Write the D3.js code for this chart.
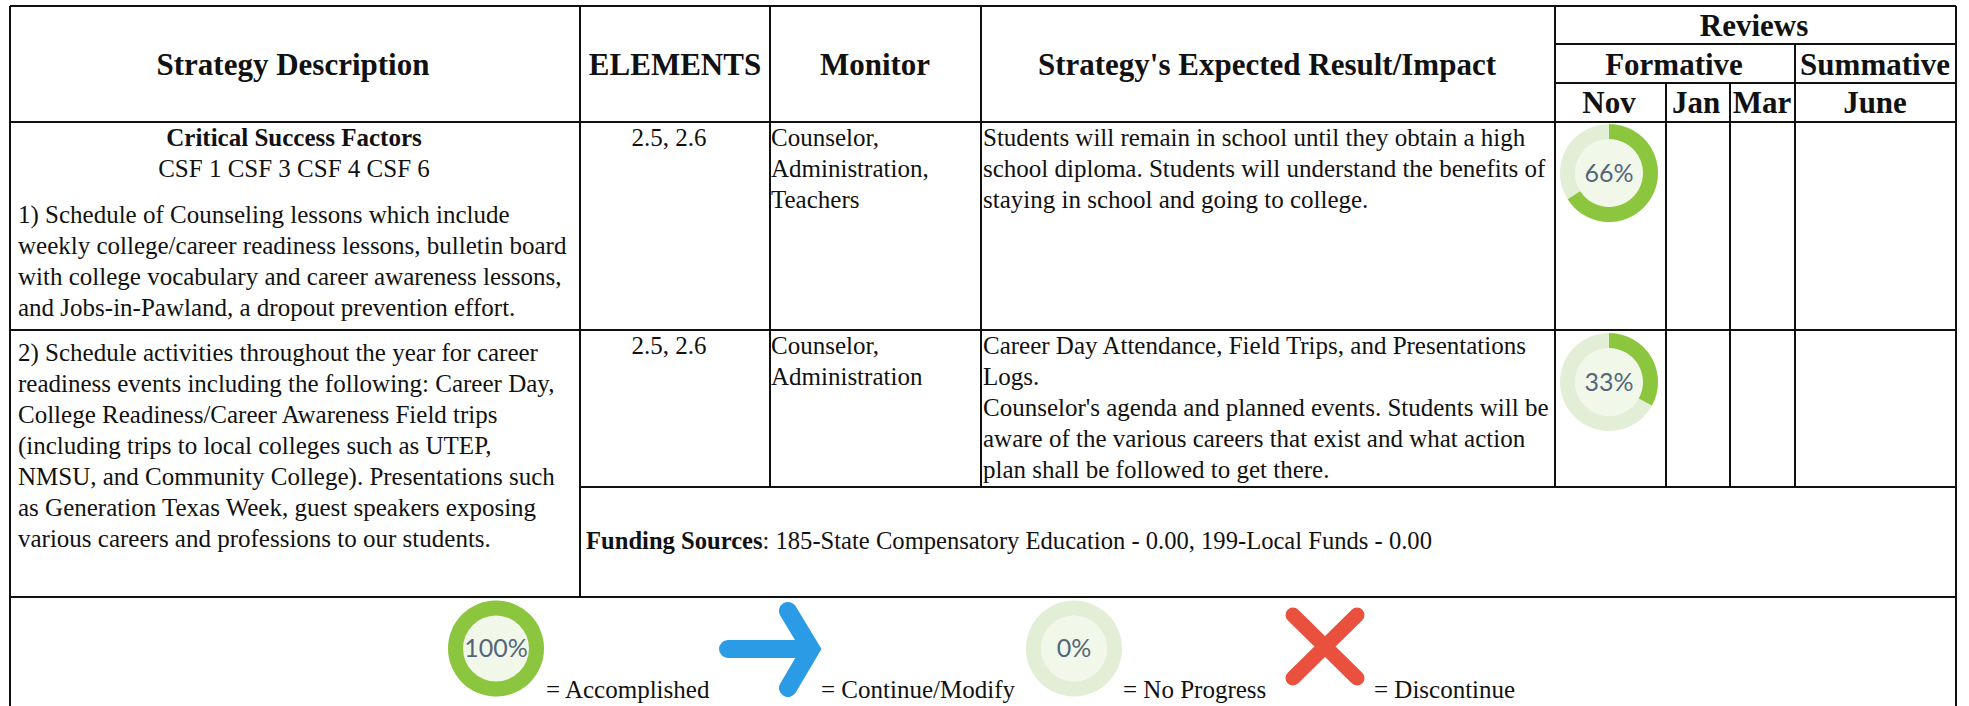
<!DOCTYPE html>
<html>
<head>
<meta charset="utf-8">
<script src="https://cdn.jsdelivr.net/npm/d3@7"></script>
<style>
    html, body { margin: 0; padding: 0; background: #fff; overflow: hidden; }
    text { font-family: "Liberation Serif", serif; fill: #111; }
    .head { font-weight: bold; font-size: 31px; }
    .body { font-size: 25px; }
    .pct { font-family: Lato, sans-serif; fill: #56667a; }
</style>
</head>
<body>
<div id="chart"></div>
<script>
const svgWidth = 1969;
const svgHeight = 706;

// --- data ---
const reviewLevels = ["Reviews", "Formative", "Summative"];
const reviewMonths = ["Nov", "Jan", "Mar", "June"];
const mainHeaders = ["Strategy Description", "ELEMENTS", "Monitor", "Strategy's Expected Result/Impact"];
const strategyPercents = [66, 33];
const elementsText = ["2.5, 2.6", "2.5, 2.6"];
const monitorLines = [
    ["Counselor,", "Administration,", "Teachers"],
    ["Counselor,", "Administration"]
];
const resultLines = [
    ["Students will remain in school until they obtain a high",
     "school diploma. Students will understand the benefits of",
     "staying in school and going to college."],
    ["Career Day Attendance, Field Trips, and Presentations",
     "Logs.",
     "Counselor's agenda and planned events. Students will be",
     "aware of the various careers that exist and what action",
     "plan shall be followed to get there."]
];
const strategyLines = [
    ["1) Schedule of Counseling lessons which include",
     "weekly college/career readiness lessons, bulletin board",
     "with college vocabulary and career awareness lessons,",
     "and Jobs-in-Pawland, a dropout prevention effort."],
    ["2) Schedule activities throughout the year for career",
     "readiness events including the following: Career Day,",
     "College Readiness/Career Awareness Field trips",
     "(including trips to local colleges such as UTEP,",
     "NMSU, and Community College). Presentations such",
     "as Generation Texas Week, guest speakers exposing",
     "various careers and professions to our students."]
];
const csfTitle = "Critical Success Factors";
const csfList = "CSF 1 CSF 3 CSF 4 CSF 6";
const fundingLabel = "Funding Sources";
const fundingText = ": 185-State Compensatory Education - 0.00, 199-Local Funds - 0.00";
const legendPercents = [100, 0];
const legendLabels = ["= Accomplished", "= Continue/Modify", "= No Progress", "= Discontinue"];

// --- layout ---
const colX = { left: 10, elements: 580, monitor: 770, result: 981, nov: 1555, jan: 1666, mar: 1730, june: 1795, right: 1956 };
const rowY = { top: 6, reviews: 44, formative: 83, head: 122, row1: 330, row2: 487, bottom: 597 };
const lineGap = 31;

const svg = d3.select("#chart").append("svg")
    .attr("width", svgWidth)
    .attr("height", svgHeight);

// grid lines: [x1, y1, x2, y2]
const gridLines = [
    [colX.left, rowY.top, colX.right, rowY.top],
    [colX.left, rowY.head, colX.right, rowY.head],
    [colX.left, rowY.row1, colX.right, rowY.row1],
    [colX.elements, rowY.row2, colX.right, rowY.row2],
    [colX.left, rowY.bottom, colX.right, rowY.bottom],
    [colX.nov, rowY.reviews, colX.right, rowY.reviews],
    [colX.nov, rowY.formative, colX.right, rowY.formative],
    [colX.left, rowY.top, colX.left, svgHeight],
    [colX.right, rowY.top, colX.right, svgHeight],
    [colX.elements, rowY.top, colX.elements, rowY.bottom],
    [colX.monitor, rowY.top, colX.monitor, rowY.row2],
    [colX.result, rowY.top, colX.result, rowY.row2],
    [colX.nov, rowY.top, colX.nov, rowY.row2],
    [colX.jan, rowY.formative, colX.jan, rowY.row2],
    [colX.mar, rowY.formative, colX.mar, rowY.row2],
    [colX.june, rowY.reviews, colX.june, rowY.row2]
];

svg.append("g").selectAll("line")
    .data(gridLines)
    .enter()
    .append("line")
    .attr("x1", d => d[0])
    .attr("y1", d => d[1])
    .attr("x2", d => d[2])
    .attr("y2", d => d[3])
    .attr("stroke", "#111")
    .attr("stroke-width", 2);

function addText(cls, x, y, str, anchor) {
    return svg.append("text")
        .attr("class", cls)
        .attr("x", x)
        .attr("y", y)
        .attr("text-anchor", anchor || "start")
        .text(str);
}

function addLines(lines, x, y) {
    lines.forEach((line, i) => addText("body", x, y + i * lineGap, line));
}

// headers
const headCenters = [293, 675, 875, 1267];
mainHeaders.forEach((h, i) => addText("head", headCenters[i], 75, h, "middle"));
addText("head", 1754, 36, reviewLevels[0], "middle");
addText("head", 1674, 75, reviewLevels[1], "middle");
addText("head", 1875, 75, reviewLevels[2], "middle");
const monthCenters = [1609, 1696, 1762, 1875];
reviewMonths.forEach((m, i) => addText("head", monthCenters[i], 113, m, "middle"));

// row text
addText("body", 294, 146, csfTitle, "middle").style("font-weight", "bold");
addText("body", 294, 177, csfList, "middle");
addLines(strategyLines[0], 18, 223);
addLines(strategyLines[1], 18, 361);

const elementBase = [146, 354];
const resultBase = [146, 354];
elementsText.forEach((t, i) => {
    addText("body", 669, elementBase[i], t, "middle");
    addLines(monitorLines[i], 771, resultBase[i]);
    addLines(resultLines[i], 983, resultBase[i]);
});

const funding = addText("body", 586, 549, "").style("font-size", "24.6px");
funding.append("tspan").style("font-weight", "bold").text(fundingLabel);
funding.append("tspan").text(fundingText);

// donuts
const percentScale = d3.scaleLinear().domain([0, 100]).range([0, 2 * Math.PI]);

function drawDonut(cx, cy, value, outer, inner, fontSize) {
    const g = svg.append("g").attr("transform", `translate(${cx},${cy})`);
    const arc = d3.arc().innerRadius(inner).outerRadius(outer);
    g.append("circle").attr("r", inner).attr("fill", "#f1f8ea");
    g.append("path")
        .attr("d", arc({ startAngle: 0, endAngle: 2 * Math.PI }))
        .attr("fill", "#e2efd6");
    if (value > 0) {
        g.append("path")
            .attr("d", arc({ startAngle: 0, endAngle: percentScale(value) }))
            .attr("fill", "#8cc63f");
    }
    g.append("text")
        .attr("class", "pct")
        .attr("text-anchor", "middle")
        .attr("dy", "0.35em")
        .style("font-size", fontSize + "px")
        .text(value + "%");
}

const donutRows = [173, 382];
strategyPercents.forEach((p, i) => drawDonut(1609, donutRows[i], p, 49, 34, 25));

// legend
drawDonut(496, 648.5, legendPercents[0], 48, 33, 25);
drawDonut(1074, 648.5, legendPercents[1], 48, 33, 25);

const legendX = [546, 821, 1123, 1374];
legendLabels.forEach((l, i) => addText("body", legendX[i], 698, l));

const arrow = d3.path();
arrow.moveTo(728, 649);
arrow.lineTo(811, 649);
arrow.moveTo(788, 611);
arrow.lineTo(811, 649);
arrow.lineTo(788, 688);
svg.append("path")
    .attr("d", arrow.toString())
    .attr("fill", "none")
    .attr("stroke", "#2b9be6")
    .attr("stroke-width", 18)
    .attr("stroke-linecap", "round")
    .attr("stroke-linejoin", "miter");

const cross = d3.path();
cross.moveTo(1293, 615);
cross.lineTo(1357, 678);
cross.moveTo(1357, 615);
cross.lineTo(1293, 678);
svg.append("path")
    .attr("d", cross.toString())
    .attr("fill", "none")
    .attr("stroke", "#ea503e")
    .attr("stroke-width", 15)
    .attr("stroke-linecap", "round");
</script>
</body>
</html>
